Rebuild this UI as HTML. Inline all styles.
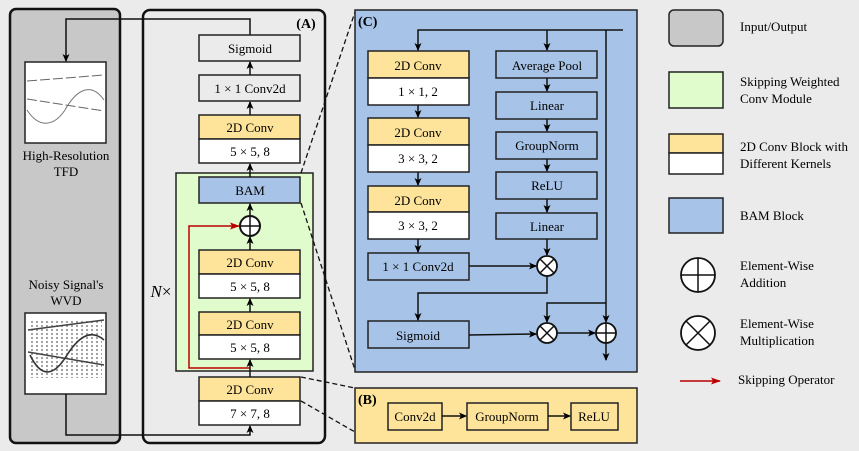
<!DOCTYPE html>
<html><head><meta charset="utf-8"><style>
html,body{margin:0;padding:0;background:#ebebeb;}
svg{display:block;font-family:"Liberation Serif",serif;}
</style></head><body>
<svg width="859" height="451" viewBox="0 0 859 451" xmlns="http://www.w3.org/2000/svg">
<defs>
<marker id="ar" markerWidth="8" markerHeight="8" refX="7" refY="4" orient="auto" markerUnits="userSpaceOnUse"><path d="M0,0.5 L8,4 L0,7.5 L2,4 z" fill="#000"/></marker>
<marker id="arr" markerWidth="10" markerHeight="8" refX="9" refY="4" orient="auto" markerUnits="userSpaceOnUse"><path d="M0,0.5 L10,4 L0,7.5 L2,4 z" fill="#b00"/></marker>
<pattern id="wv" width="5" height="4" patternUnits="userSpaceOnUse"><circle cx="2" cy="2" r="1.1" fill="#777"/></pattern>
</defs>
<rect width="859" height="451" fill="#ebebeb"/>
<rect x="10" y="9" width="110" height="434" rx="6" fill="#c8c8c8" stroke="#111" stroke-width="2.5"/>
<rect x="143" y="10" width="182" height="433" rx="7" fill="#ebebeb" stroke="#111" stroke-width="2.5"/>
<text x="306" y="28" font-size="14" font-weight="bold" text-anchor="middle">(A)</text>
<rect x="25" y="62" width="81" height="81" fill="#fff" stroke="#222" stroke-width="1.5"/>
<path d="M27,81 L104,75" stroke="#666" stroke-width="1" stroke-dasharray="10,3" fill="none"/>
<path d="M27,99 L104,111" stroke="#666" stroke-width="1" stroke-dasharray="10,3" fill="none"/>
<path d="M27,110 C40,130 55,125 65,110 C75,92 90,80 104,100" stroke="#777" stroke-width="1" fill="none"/>
<text x="66" y="160" font-size="13" text-anchor="middle">High-Resolution</text>
<text x="66" y="176" font-size="13" text-anchor="middle">TFD</text>
<text x="66" y="289" font-size="13" text-anchor="middle">Noisy Signal's</text>
<text x="66" y="305" font-size="13" text-anchor="middle">WVD</text>
<rect x="25" y="313" width="81" height="81" fill="#fff" stroke="#222" stroke-width="1.5"/>
<rect x="30" y="320" width="72" height="58" fill="url(#wv)" opacity="0.75"/>
<path d="M28,330 L104,320" stroke="#444" stroke-width="1.5" fill="none"/>
<path d="M28,352 L104,365" stroke="#444" stroke-width="1.5" fill="none"/>
<path d="M30,355 C42,380 55,375 67,355 C78,338 90,328 104,340" stroke="#333" stroke-width="1.6" fill="none"/>
<path d="M250,35 L250,19 L66,19 L66,61" fill="none" stroke="#111" stroke-width="1.5" marker-end="url(#ar)"/>
<path d="M66,394 L66,435 L250,435 L250,426" fill="none" stroke="#111" stroke-width="1.5" marker-end="url(#ar)"/>
<rect x="176" y="173" width="137" height="198" fill="#e0fbcc" stroke="#222" stroke-width="1.5"/>
<text x="161" y="297" font-size="17" text-anchor="middle"><tspan font-style="italic">N</tspan>×</text>
<g stroke="#222" stroke-width="1.5" font-size="13" text-anchor="middle">
<rect x="199" y="35" width="101" height="26" fill="#ebebeb"/>
<rect x="199" y="75" width="101" height="26" fill="#ebebeb"/>
<rect x="199" y="115" width="101" height="24" fill="#fde49a"/>
<rect x="199" y="139" width="101" height="24" fill="#fff"/>
<rect x="199" y="177" width="101" height="26" fill="#a7c4e8"/>
<rect x="199" y="250" width="101" height="24" fill="#fde49a"/>
<rect x="199" y="274" width="101" height="24" fill="#fff"/>
<rect x="199" y="312" width="101" height="23" fill="#fde49a"/>
<rect x="199" y="335" width="101" height="24" fill="#fff"/>
<rect x="199" y="377" width="101" height="24" fill="#fde49a"/>
<rect x="199" y="401" width="101" height="24" fill="#fff"/>
</g>
<g font-size="13" text-anchor="middle">
<text x="250" y="53">Sigmoid</text>
<text x="250" y="93">1 × 1 Conv2d</text>
<text x="250" y="132">2D Conv</text>
<text x="250" y="156">5 × 5, 8</text>
<text x="250" y="195">BAM</text>
<text x="250" y="267">2D Conv</text>
<text x="250" y="291">5 × 5, 8</text>
<text x="250" y="329">2D Conv</text>
<text x="250" y="352">5 × 5, 8</text>
<text x="250" y="394">2D Conv</text>
<text x="250" y="418">7 × 7, 8</text>
</g>
<g stroke="#111" stroke-width="1.5" fill="none">
<line x1="250" y1="75" x2="250" y2="62" marker-end="url(#ar)"/>
<line x1="250" y1="115" x2="250" y2="102" marker-end="url(#ar)"/>
<line x1="250" y1="177" x2="250" y2="164" marker-end="url(#ar)"/>
<line x1="250" y1="216" x2="250" y2="204" marker-end="url(#ar)"/>
<line x1="250" y1="250" x2="250" y2="237" marker-end="url(#ar)"/>
<line x1="250" y1="312" x2="250" y2="299" marker-end="url(#ar)"/>
<line x1="250" y1="377" x2="250" y2="360" marker-end="url(#ar)"/>
</g>
<path d="M250,368 L189,368 L189,226 L239,226" fill="none" stroke="#b00" stroke-width="1.5" marker-end="url(#arr)"/>
<circle cx="250" cy="226" r="10" fill="#fff" stroke="#111" stroke-width="2"/>
<path d="M240,226 H260 M250,216 V236" stroke="#111" stroke-width="1.5"/>
<g stroke="#111" stroke-width="1.3" stroke-dasharray="5,3">
<line x1="301" y1="173" x2="355" y2="12"/>
<line x1="301" y1="203" x2="355" y2="370"/>
<line x1="301" y1="377" x2="355" y2="388"/>
<line x1="301" y1="401" x2="355" y2="432"/>
</g>
<rect x="355" y="10" width="282" height="362" fill="#a7c4e8" stroke="#222" stroke-width="1.5"/>
<text x="358" y="26" font-size="14" font-weight="bold">(C)</text>
<g stroke="#222" stroke-width="1.5">
<rect x="368" y="51" width="101" height="27" fill="#fde49a"/>
<rect x="368" y="78" width="101" height="27" fill="#fff"/>
<rect x="368" y="118" width="101" height="27" fill="#fde49a"/>
<rect x="368" y="145" width="101" height="27" fill="#fff"/>
<rect x="368" y="186" width="101" height="26" fill="#fde49a"/>
<rect x="368" y="212" width="101" height="27" fill="#fff"/>
<rect x="368" y="253" width="101" height="27" fill="#a7c4e8"/>
<rect x="368" y="321" width="101" height="27" fill="#a7c4e8"/>
<rect x="496" y="51" width="101" height="27" fill="#a7c4e8"/>
<rect x="496" y="92" width="101" height="27" fill="#a7c4e8"/>
<rect x="496" y="132" width="101" height="27" fill="#a7c4e8"/>
<rect x="496" y="172" width="101" height="27" fill="#a7c4e8"/>
<rect x="496" y="213" width="101" height="26" fill="#a7c4e8"/>
</g>
<g font-size="13" text-anchor="middle">
<text x="418" y="70">2D Conv</text>
<text x="418" y="96">1 × 1, 2</text>
<text x="418" y="137">2D Conv</text>
<text x="418" y="163">3 × 3, 2</text>
<text x="418" y="205">2D Conv</text>
<text x="418" y="230">3 × 3, 2</text>
<text x="418" y="271">1 × 1 Conv2d</text>
<text x="418" y="340">Sigmoid</text>
<text x="547" y="70">Average Pool</text>
<text x="547" y="110">Linear</text>
<text x="547" y="150">GroupNorm</text>
<text x="547" y="190">ReLU</text>
<text x="547" y="231">Linear</text>
</g>
<g stroke="#111" stroke-width="1.5" fill="none">
<path d="M623,30 L418,30 L418,50" marker-end="url(#ar)"/>
<line x1="547" y1="30" x2="547" y2="50" marker-end="url(#ar)"/>
<line x1="606" y1="30" x2="606" y2="322" marker-end="url(#ar)"/>
<line x1="606" y1="343" x2="606" y2="360" marker-end="url(#ar)"/>
<line x1="418" y1="105" x2="418" y2="117" marker-end="url(#ar)"/>
<line x1="418" y1="172" x2="418" y2="185" marker-end="url(#ar)"/>
<line x1="418" y1="239" x2="418" y2="252" marker-end="url(#ar)"/>
<line x1="547" y1="78" x2="547" y2="91" marker-end="url(#ar)"/>
<line x1="547" y1="119" x2="547" y2="131" marker-end="url(#ar)"/>
<line x1="547" y1="159" x2="547" y2="171" marker-end="url(#ar)"/>
<line x1="547" y1="199" x2="547" y2="212" marker-end="url(#ar)"/>
<line x1="547" y1="239" x2="547" y2="255" marker-end="url(#ar)"/>
<line x1="469" y1="266" x2="536" y2="266" marker-end="url(#ar)"/>
<path d="M547,276 L547,293 L418,293 L418,320" marker-end="url(#ar)"/>
<line x1="469" y1="335" x2="536" y2="334" marker-end="url(#ar)"/>
<path d="M606,303 L547,303 L547,322" marker-end="url(#ar)"/>
<line x1="557" y1="333" x2="595" y2="333" marker-end="url(#ar)"/>
</g>
<g stroke="#111" stroke-width="1.8" fill="#fff">
<circle cx="547" cy="266" r="10"/><circle cx="547" cy="333" r="10"/><circle cx="606" cy="333" r="10"/>
</g>
<g stroke="#111" stroke-width="1.5">
<path d="M540,259 L554,273 M554,259 L540,273"/>
<path d="M540,326 L554,340 M554,326 L540,340"/>
<path d="M596,333 H616 M606,323 V343"/>
</g>
<rect x="355" y="388" width="282" height="55" fill="#fde49a" stroke="#222" stroke-width="1.5"/>
<text x="358" y="404" font-size="14" font-weight="bold">(B)</text>
<g stroke="#222" stroke-width="1.5" fill="#fde49a">
<rect x="388" y="403" width="54" height="27"/>
<rect x="467" y="403" width="81" height="27"/>
<rect x="571" y="403" width="47" height="27"/>
</g>
<g font-size="13" text-anchor="middle">
<text x="415" y="421">Conv2d</text>
<text x="507" y="421">GroupNorm</text>
<text x="594" y="421">ReLU</text>
</g>
<g stroke="#111" stroke-width="1.5">
<line x1="442" y1="416" x2="466" y2="416" marker-end="url(#ar)"/>
<line x1="548" y1="416" x2="570" y2="416" marker-end="url(#ar)"/>
</g>
<rect x="669" y="10" width="54" height="36" rx="5" fill="#c8c8c8" stroke="#222" stroke-width="1.5"/>
<rect x="669" y="72" width="54" height="36" fill="#e0fbcc" stroke="#222" stroke-width="1.5"/>
<rect x="669" y="134" width="54" height="19" fill="#fde49a" stroke="#222" stroke-width="1.5"/>
<rect x="669" y="153" width="54" height="21" fill="#fff" stroke="#222" stroke-width="1.5"/>
<rect x="669" y="198" width="54" height="35" fill="#a7c4e8" stroke="#222" stroke-width="1.5"/>
<circle cx="698" cy="275" r="17" fill="#fff" stroke="#111" stroke-width="1.8"/>
<path d="M681,275 H715 M698,258 V292" stroke="#111" stroke-width="1.5"/>
<circle cx="698" cy="333" r="17" fill="#fff" stroke="#111" stroke-width="1.8"/>
<path d="M686,321 L710,345 M710,321 L686,345" stroke="#111" stroke-width="1.5"/>
<line x1="680" y1="381" x2="720" y2="381" stroke="#b00" stroke-width="1.5" marker-end="url(#arr)"/>
<g font-size="13">
<text x="740" y="31">Input/Output</text>
<text x="740" y="86">Skipping Weighted</text>
<text x="740" y="103">Conv Module</text>
<text x="740" y="151">2D Conv Block with</text>
<text x="740" y="168">Different Kernels</text>
<text x="740" y="220">BAM Block</text>
<text x="740" y="270">Element-Wise</text>
<text x="740" y="287">Addition</text>
<text x="740" y="328">Element-Wise</text>
<text x="740" y="345">Multiplication</text>
<text x="738" y="384">Skipping Operator</text>
</g>
</svg>
</body></html>
